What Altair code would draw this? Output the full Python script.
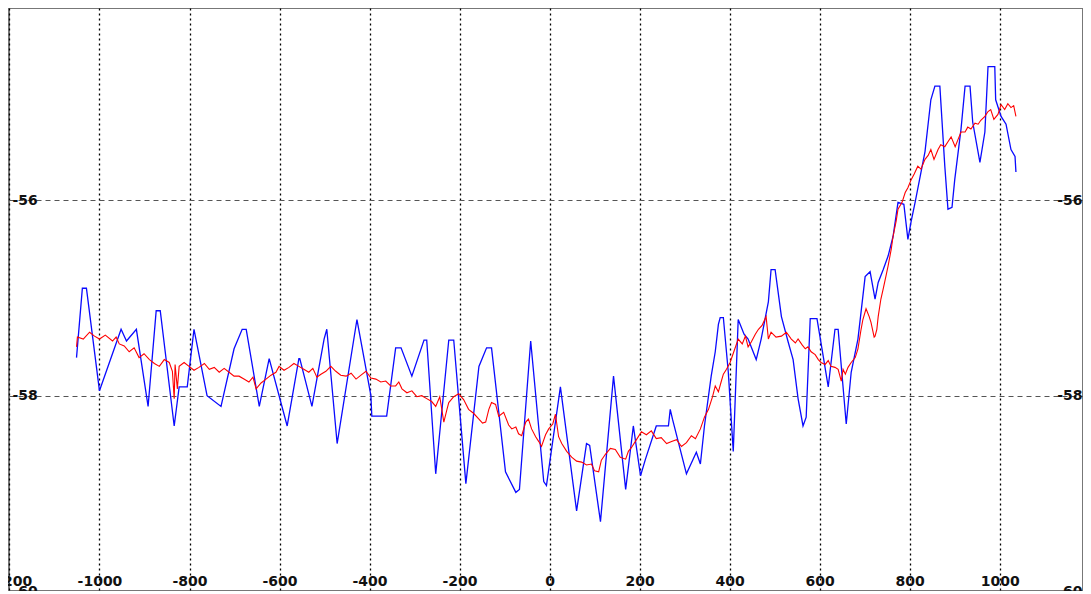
import altair as alt
import pandas as pd

blue_year = [-1051, -1038, -1029, -1000, -952, -940, -918, -892, -874, -865, -834, -823, -805, -790,
             -761, -730, -701, -683, -674, -645, -623, -583, -557, -555, -528, -501, -495, -472, -428,
             -397, -395, -362, -342, -330, -306, -279, -273, -253, -224, -213, -186, -157, -140, -129,
             -98, -75, -67, -42, -13, -7, 24, 60, 82, 89, 113, 142, 169, 186, 202, 213, 237, 264, 268,
             273, 304, 326, 335, 344, 359, 368, 375, 379, 386, 397, 408, 419, 432, 441, 459, 470, 486,
             492, 501, 515, 530, 541, 552, 563, 570, 579, 594, 608, 619, 634, 641, 659, 670, 685, 701,
             712, 723, 730, 741, 752, 763, 774, 787, 796, 803, 812, 834, 847, 856, 867, 878, 885, 894,
             900, 914, 923, 934, 940, 956, 967, 974, 989, 991, 1003, 1014, 1025, 1034, 1036]
blue_value = [-57.61, -56.90, -56.90, -57.95, -57.32, -57.44, -57.32, -58.11, -57.13, -57.13, -58.31,
              -57.91, -57.91, -57.32, -58.00, -58.11, -57.52, -57.32, -57.32, -58.11, -57.62, -58.31,
              -57.62, -57.62, -58.11, -57.42, -57.32, -58.49, -57.22, -58.00, -58.21, -58.21, -57.51,
              -57.51, -57.80, -57.43, -57.43, -58.80, -57.43, -57.43, -58.90, -57.70, -57.51, -57.51,
              -58.78, -58.99, -58.96, -57.44, -58.88, -58.92, -57.91, -59.18, -58.49, -58.51, -59.29,
              -57.80, -58.96, -58.31, -58.82, -58.65, -58.31, -58.31, -58.14, -58.24, -58.80, -58.58,
              -58.70, -58.31, -57.80, -57.55, -57.27, -57.20, -57.20, -57.76, -58.57, -57.22, -57.37,
              -57.42, -57.63, -57.42, -57.04, -56.71, -56.71, -57.19, -57.45, -57.63, -58.03, -58.31,
              -58.22, -57.21, -57.21, -57.60, -57.91, -57.32, -57.32, -58.29, -57.76, -57.42, -56.78,
              -56.73, -57.01, -56.84, -56.71, -56.57, -56.37, -56.02, -56.04, -56.40, -56.22, -56.02,
              -55.50, -54.97, -54.83, -54.83, -55.65, -56.09, -56.07, -55.79, -55.27, -54.83, -54.83,
              -55.20, -55.61, -55.30, -54.63, -54.63, -54.97, -55.14, -55.22, -55.48, -55.55, -55.71]

red_year = [-1051, -1049, -1036, -1022, -1011, -1000, -987, -971, -963, -956, -945, -934, -923, -912,
            -901, -889, -878, -867, -856, -845, -838, -834, -832, -827, -823, -812, -801, -790, -779,
            -767, -756, -745, -734, -723, -712, -701, -690, -679, -668, -659, -652, -641, -630, -619,
            -608, -601, -590, -579, -568, -557, -546, -535, -526, -517, -508, -497, -486, -475, -464,
            -452, -441, -430, -419, -408, -397, -386, -375, -364, -353, -342, -335, -328, -317, -306,
            -295, -284, -273, -262, -253, -244, -235, -228, -224, -213, -202, -191, -180, -169, -157,
            -149, -142, -135, -129, -120, -113, -102, -91, -84, -75, -69, -62, -53, -47, -40, -31, -24,
            -18, -9, -2, 7, 13, 20, 27, 38, 49, 60, 71, 82, 93, 100, 109, 115, 124, 135, 146, 157, 169,
            175, 182, 193, 204, 215, 226, 237, 248, 260, 271, 282, 293, 304, 315, 324, 335, 344, 353,
            362, 368, 375, 381, 386, 393, 401, 410, 419, 428, 435, 441, 448, 457, 464, 472, 481, 486,
            492, 503, 515, 526, 537, 546, 552, 561, 568, 574, 581, 590, 597, 603, 612, 619, 625, 634,
            641, 648, 652, 657, 663, 670, 679, 685, 692, 696, 703, 710, 714, 721, 723, 727, 730, 736,
            741, 747, 752, 759, 763, 770, 774, 783, 790, 796, 803, 810, 818, 825, 834, 841, 847, 854,
            863, 869, 878, 885, 892, 901, 907, 914, 923, 929, 936, 945, 952, 958, 967, 974, 980, 987,
            996, 1003, 1011, 1018, 1025, 1031, 1036]
red_value = [-57.50, -57.40, -57.42, -57.35, -57.39, -57.42, -57.38, -57.44, -57.40, -57.47, -57.49,
             -57.55, -57.51, -57.61, -57.57, -57.63, -57.67, -57.70, -57.63, -57.66, -57.75, -58.03,
             -57.68, -57.93, -57.70, -57.66, -57.70, -57.74, -57.71, -57.67, -57.73, -57.71, -57.76,
             -57.72, -57.76, -57.80, -57.80, -57.83, -57.86, -57.81, -57.93, -57.87, -57.83, -57.79,
             -57.76, -57.70, -57.74, -57.71, -57.67, -57.70, -57.73, -57.76, -57.72, -57.81, -57.78,
             -57.75, -57.70, -57.75, -57.79, -57.80, -57.77, -57.83, -57.79, -57.75, -57.82, -57.83,
             -57.86, -57.85, -57.90, -57.90, -57.86, -57.93, -57.97, -57.95, -58.01, -58.00, -58.03,
             -58.06, -58.11, -58.01, -58.27, -58.14, -58.07, -58.01, -57.98, -58.04, -58.14, -58.18,
             -58.24, -58.28, -58.27, -58.14, -58.07, -58.09, -58.21, -58.17, -58.30, -58.34, -58.32,
             -58.39, -58.41, -58.27, -58.24, -58.34, -58.42, -58.47, -58.52, -58.40, -58.34, -58.29,
             -58.19, -58.42, -58.49, -58.57, -58.63, -58.67, -58.68, -58.71, -58.70, -58.77, -58.78,
             -58.66, -58.60, -58.54, -58.55, -58.63, -58.65, -58.57, -58.53, -58.45, -58.37, -58.40,
             -58.36, -58.44, -58.43, -58.49, -58.47, -58.45, -58.52, -58.48, -58.41, -58.44, -58.34,
             -58.22, -58.14, -58.01, -57.90, -57.96, -57.86, -57.78, -57.73, -57.66, -57.54, -57.42,
             -57.47, -57.39, -57.50, -57.45, -57.37, -57.32, -57.28, -57.19, -57.42, -57.35, -57.40,
             -57.39, -57.35, -57.42, -57.46, -57.42, -57.48, -57.52, -57.50, -57.55, -57.58, -57.63,
             -57.66, -57.68, -57.64, -57.70, -57.71, -57.73, -57.85, -57.73, -57.78, -57.71, -57.66,
             -57.61, -57.52, -57.32, -57.22, -57.11, -57.19, -57.25, -57.40, -57.39, -57.32, -57.19,
             -57.01, -56.91, -56.78, -56.67, -56.50, -56.37, -56.21, -56.09, -56.02, -55.92, -55.87,
             -55.79, -55.73, -55.65, -55.68, -55.58, -55.54, -55.48, -55.58, -55.48, -55.43, -55.45,
             -55.40, -55.35, -55.45, -55.38, -55.30, -55.30, -55.25, -55.27, -55.21, -55.22, -55.18,
             -55.14, -55.09, -55.07, -55.17, -55.12, -55.02, -55.07, -55.01, -55.05, -55.03, -55.14]

x_ticks = [-1200, -1000, -800, -600, -400, -200, 0, 200, 400, 600, 800, 1000, 1200]
y_ticks = [-60, -58, -56]

blue_df = pd.DataFrame({"year": blue_year, "value": blue_value})
red_df = pd.DataFrame({"year": red_year, "value": red_value})

label_style = dict(labelFont="DejaVu Sans", labelFontSize=14, labelFontWeight="bold",
                   labelColor="#111", labelExpr="toString(datum.value)")

x_enc = alt.X("year:Q",
              scale=alt.Scale(domain=[-1201, 1185], nice=False, zero=False),
              axis=alt.Axis(values=x_ticks, title=None, grid=True, gridColor="#000",
                            gridDash=[2, 3], gridWidth=1.3, domain=False, ticks=False,
                            labelPadding=-3, labelBaseline="bottom", labelFlush=False,
                            labelOverlap=False, **label_style))

y_scale = alt.Scale(domain=[-60, -54.03], nice=False, zero=False)

blue = alt.Chart(blue_df).mark_line(color="#0a0aff", strokeWidth=1.3).encode(
    x=x_enc,
    y=alt.Y("value:Q", scale=y_scale,
            axis=alt.Axis(values=y_ticks, orient="left", title=None, grid=True,
                          gridColor="#555", gridDash=[5, 4], gridWidth=1, domain=False,
                          ticks=False, labelAlign="left", labelPadding=-3,
                          labelBaseline="middle", labelOverlap=False, labelFlush=False,
                          **label_style)),
)

red = alt.Chart(red_df).mark_line(color="#ff0000", strokeWidth=1.1).encode(
    x=x_enc,
    y=alt.Y("value:Q", scale=y_scale,
            axis=alt.Axis(values=y_ticks, orient="right", title=None, grid=False,
                          domain=False, ticks=False, labelAlign="right", labelPadding=-1,
                          labelBaseline="middle", labelOverlap=False, labelFlush=False,
                          **label_style)),
)

chart = alt.layer(blue, red).resolve_axis(y="independent").properties(
    width=1074, height=583,
    padding={"left": 1, "top": 0, "right": 0, "bottom": 0},
    autosize=alt.AutoSizeParams(type="none"),
    background="white",
).configure_view(stroke="#777", strokeWidth=2)

chart.save("out.html", embed_options={"renderer": "svg", "actions": False})
